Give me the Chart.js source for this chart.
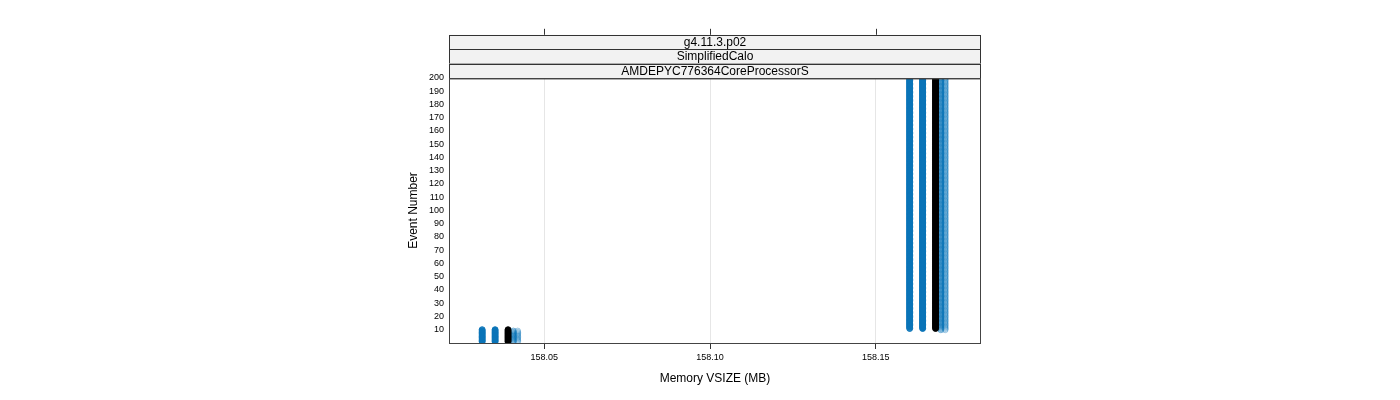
<!DOCTYPE html>
<html>
<head>
<meta charset="utf-8">
<script src="https://cdn.jsdelivr.net/npm/chart.js@4/dist/chart.umd.min.js"></script>
<style>
  html, body { margin: 0; padding: 0; background: #fff; }
  canvas { display: block; }
</style>
</head>
<body>
<canvas id="myChart" width="1400" height="400"></canvas>
<script>
// Valeurs : mémoire VSIZE (MB) par run, avant / après le saut
var runNames = ['run1', 'run2', 'run3', 'run4', 'run5'];
var memLow = [158.0313, 158.0352, 158.0391, 158.0407, 158.0420];
var memHigh = [158.1602, 158.1641, 158.1680, 158.1696, 158.1709];
var lastLowEvent = [10, 10, 10, 9, 9];   // dernier événement au niveau bas
var lastEvent = 200;
var runColors = ['#0a74b8', '#0a74b8', '#000000', 'rgba(10,116,184,0.5)', 'rgba(10,116,184,0.35)'];
var runFills = ['rgba(10,116,184,0.8)', '#0a74b8', '#000000', 'rgba(10,116,184,0.18)', 'rgba(10,116,184,0.1)'];

// Axes et bandeaux
var xTickValues = [158.05, 158.10, 158.15];
var yTickValues = [10, 20, 30, 40, 50, 60, 70, 80, 90, 100, 110, 120, 130, 140, 150, 160, 170, 180, 190, 200];
var stripLabels = ['g4.11.3.p02', 'SimplifiedCalo', 'AMDEPYC776364CoreProcessorS'];

var fontName = '"Liberation Sans", Arial, sans-serif';

// Construction des points : mémoire en fonction du numéro d'événement
var datasets = runNames.map(function (name, i) {
    var pts = [];
    for (var e = 1; e <= lastEvent; e++) {
        pts.push({ x: e <= lastLowEvent[i] ? memLow[i] : memHigh[i], y: e });
    }
    return {
        label: name,
        data: pts,
        borderColor: runColors[i],
        backgroundColor: runFills[i],
        pointRadius: 3,
        pointBorderWidth: 1,
        showLine: false
    };
});

// Cadre du panneau, graduations du haut et bandeaux (style lattice)
var latticePanel = {
    id: 'latticePanel',
    afterDraw: function (chart) {
        var ctx = chart.ctx;
        var a = chart.chartArea;
        var xs = chart.scales.x;
        ctx.save();

        // bandeaux
        var stripH = 14.4;
        ctx.font = '12px ' + fontName;
        ctx.textAlign = 'center';
        ctx.textBaseline = 'middle';
        stripLabels.forEach(function (txt, k) {
            var top = a.top - stripH * (stripLabels.length - k);
            ctx.fillStyle = '#f2f2f2';
            ctx.fillRect(a.left, top, a.right - a.left, stripH);
            ctx.strokeStyle = '#333';
            ctx.lineWidth = 1;
            ctx.strokeRect(a.left + 0.5, Math.round(top) + 0.5, a.right - a.left - 1, stripH);
            ctx.fillStyle = '#000';
            ctx.fillText(txt, (a.left + a.right) / 2, top + stripH / 2 + 0.5);
        });

        // graduations au-dessus des bandeaux
        var stripTop = a.top - stripH * stripLabels.length;
        ctx.strokeStyle = '#333';
        xTickValues.forEach(function (v) {
            var px = Math.round(xs.getPixelForValue(v)) + 0.5;
            ctx.beginPath();
            ctx.moveTo(px, stripTop);
            ctx.lineTo(px, stripTop - 6);
            ctx.stroke();
        });

        // cadre
        ctx.strokeStyle = '#444';
        ctx.strokeRect(a.left + 0.5, a.top + 0.5, a.right - a.left - 1, a.bottom - a.top);
        ctx.restore();
    }
};

var ctx = document.getElementById('myChart').getContext('2d');

var myChart = new Chart(ctx, {
    type: 'scatter',
    data: { datasets: datasets },
    options: {
        responsive: false,
        animation: false,
        devicePixelRatio: 1,
        layout: { padding: { left: 400, right: 419, top: 78, bottom: 0 } },
        plugins: {
            legend: { display: false },
            tooltip: { enabled: false }
        },
        scales: {
            x: {
                type: 'linear',
                min: 158.0213,
                max: 158.1817,
                afterBuildTicks: function (scale) {
                    scale.ticks = xTickValues.map(function (v) { return { value: v }; });
                },
                afterFit: function (scale) { scale.height = 57; },
                ticks: {
                    font: { family: fontName, size: 9 },
                    color: '#000',
                    padding: 3,
                    maxRotation: 0,
                    callback: function (v) { return v.toFixed(2); }
                },
                grid: {
                    color: '#e6e6e6',
                    tickColor: '#333',
                    tickLength: 6,
                    drawTicks: true
                },
                border: { display: false },
                title: {
                    display: true,
                    text: 'Memory VSIZE (MB)',
                    font: { family: fontName, size: 12 },
                    color: '#000',
                    padding: { top: 4, bottom: 14 }
                }
            },
            y: {
                type: 'linear',
                min: 0,
                max: 200,
                afterBuildTicks: function (scale) {
                    scale.ticks = yTickValues.map(function (v) { return { value: v }; });
                },
                afterFit: function (scale) { scale.width = 49; },
                ticks: {
                    font: { family: fontName, size: 9 },
                    color: '#000',
                    padding: 5
                },
                grid: { display: false, drawTicks: false },
                border: { display: false },
                title: {
                    display: true,
                    text: 'Event Number',
                    font: { family: fontName, size: 12 },
                    color: '#000',
                    padding: { top: 6, bottom: 4 }
                }
            }
        }
    },
    plugins: [latticePanel]
});
</script>
</body>
</html>
